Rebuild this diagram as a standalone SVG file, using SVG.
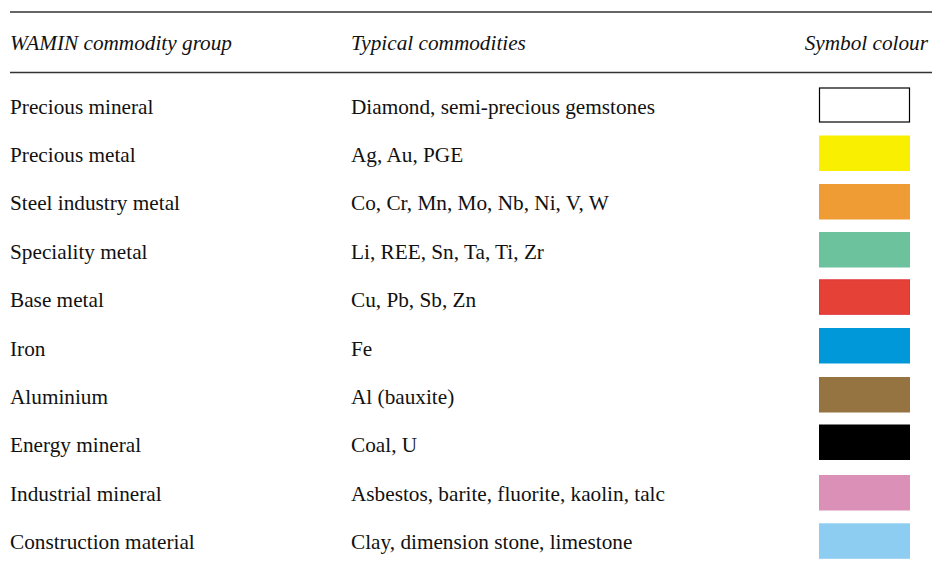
<svg xmlns="http://www.w3.org/2000/svg" width="932" height="562" viewBox="0 0 932 562">
<style>
text{font-family:"Liberation Serif","Times New Roman",serif;font-size:21.25px;fill:#111}
.h{font-style:italic}
.rule{stroke:#333;stroke-width:1.3}
.sw{stroke:none}
</style>
<rect width="932" height="562" fill="#fff"/>
<g id="rules">
<line class="rule" x1="10" y1="12" x2="932" y2="12"/>
<line class="rule" x1="10" y1="72.5" x2="932" y2="72.5"/>
</g>
<g id="header">
<text class="h" x="10" y="49.5">WAMIN commodity group</text>
<text class="h" x="351" y="49.5">Typical commodities</text>
<text class="h" x="928" y="49.5" text-anchor="end">Symbol colour</text>
</g>
<g id="row1"><text x="10" y="113.5">Precious mineral</text><text x="351" y="113.5">Diamond, semi-precious gemstones</text><rect x="819.5" y="88" width="90" height="34" fill="#fff" stroke="#000" stroke-width="1.2"/></g>
<g id="row2"><text x="10" y="162">Precious metal</text><text x="351" y="162">Ag, Au, PGE</text><rect class="sw" x="819" y="135.5" width="91" height="35.5" fill="#F8F000"/></g>
<g id="row3"><text x="10" y="210.3">Steel industry metal</text><text x="351" y="210.3">Co, Cr, Mn, Mo, Nb, Ni, V, W</text><rect class="sw" x="819" y="184" width="91" height="35.5" fill="#F09C35"/></g>
<g id="row4"><text x="10" y="258.7">Speciality metal</text><text x="351" y="258.7">Li, REE, Sn, Ta, Ti, Zr</text><rect class="sw" x="819" y="232" width="91" height="35.5" fill="#6BC29C"/></g>
<g id="row5"><text x="10" y="307">Base metal</text><text x="351" y="307">Cu, Pb, Sb, Zn</text><rect x="819.5" y="279.8" width="90" height="34.5" fill="#E54136" stroke="#E2343D" stroke-width="1"/></g>
<g id="row6"><text x="10" y="355.5">Iron</text><text x="351" y="355.5">Fe</text><rect class="sw" x="819" y="328" width="91" height="35.5" fill="#0098D8"/></g>
<g id="row7"><text x="10" y="403.8">Aluminium</text><text x="351" y="403.8">Al (bauxite)</text><rect class="sw" x="819" y="377" width="91" height="35.5" fill="#967442"/></g>
<g id="row8"><text x="10" y="452.2">Energy mineral</text><text x="351" y="452.2">Coal, U</text><rect class="sw" x="819" y="424.5" width="91" height="35.5" fill="#000"/></g>
<g id="row9"><text x="10" y="500.5">Industrial mineral</text><text x="351" y="500.5">Asbestos, barite, fluorite, kaolin, talc</text><rect class="sw" x="819" y="475" width="91" height="35.5" fill="#DB91B7"/></g>
<g id="row10"><text x="10" y="548.8">Construction material</text><text x="351" y="548.8">Clay, dimension stone, limestone</text><rect class="sw" x="819" y="523.3" width="91" height="35.5" fill="#8ECDF2"/></g>
</svg>
